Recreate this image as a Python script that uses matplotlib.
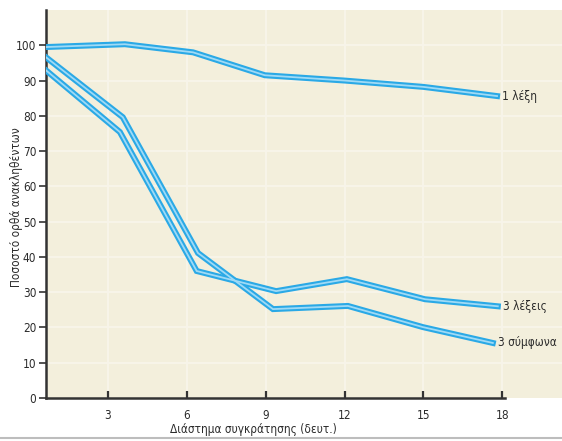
import numpy as np
import matplotlib
matplotlib.use("Agg")
import matplotlib.pyplot as plt
from matplotlib.lines import Line2D

# δεδομένα (ανάγνωση από το γράφημα)
x_1lexi = [0.65, 3.65, 6.24, 8.97, 12.0, 15.0, 17.8]
y_1lexi = [99.5, 100.3, 98.0, 91.5, 90.0, 88.2, 85.6]

x_3lexeis = [0.65, 3.46, 6.38, 9.4, 12.09, 15.06, 17.83]
y_3lexeis = [92.9, 75.4, 36.0, 30.3, 33.7, 28.0, 26.0]

x_3symfona = [0.65, 3.57, 6.43, 9.28, 12.13, 14.98, 17.64]
y_3symfona = [96.6, 79.6, 41.1, 25.2, 26.1, 20.1, 15.6]

series = [
    (x_1lexi, y_1lexi, "1 λέξη", 85.6),
    (x_3lexeis, y_3lexeis, "3 λέξεις", 26.0),
    (x_3symfona, y_3symfona, "3 σύμφωνα", 15.6),
]

xticks = [3, 6, 9, 12, 15, 18]
yticks = [0, 10, 20, 30, 40, 50, 60, 70, 80, 90, 100]

font = dict(family="DejaVu Sans", stretch="condensed")
txt_col = "#2b2b2b"

fig = plt.figure(figsize=(5.62, 4.41), dpi=100)
ax = fig.add_axes([46 / 562, 43 / 441, 516 / 562, 388 / 441])
ax.set_facecolor("#f3efdc")

ax.set_xlim(0.65, 20.27)
ax.set_ylim(0, 110)

# πλέγμα (πολύ αχνό)
for t in xticks:
    ax.axvline(t, color="#f8f5ea", lw=1.3, zorder=0)
for t in yticks[1:]:
    ax.axhline(t, color="#f8f5ea", lw=1.3, zorder=0)

# καμπύλες με διπλή γραμμή
for xs, ys, label, ylab in series:
    ax.plot(xs, ys, color="#2aa9e6", lw=4.3, solid_joinstyle="miter", zorder=3)
    ax.plot(xs, ys, color="#9fdaf6", lw=1.3, solid_joinstyle="miter", zorder=4)
    ax.text(xs[-1] + 0.2, ylab, label, fontsize=8.5, color=txt_col,
            va="center", ha="left", **font)

for s in ["top", "right"]:
    ax.spines[s].set_visible(False)
ax.spines["left"].set_color("#333333")
ax.spines["left"].set_linewidth(1.8)
ax.spines["bottom"].set_color("#333333")
ax.spines["bottom"].set_linewidth(1.8)
ax.spines["bottom"].set_bounds(0.65, 18.1)

ax.set_xticks(xticks)
ax.set_yticks(yticks)
ax.tick_params(axis="x", direction="in", length=5, width=1.6, color="#333333",
               pad=8, labelsize=8.5, labelcolor=txt_col)
ax.tick_params(axis="y", direction="out", length=5, width=1.2, color="#333333",
               pad=2, labelsize=8.5, labelcolor=txt_col)
for lab in ax.get_xticklabels() + ax.get_yticklabels():
    lab.set_fontstretch("condensed")

fig.text(253 / 562, 5 / 441, "Διάστημα συγκράτησης (δευτ.)", fontsize=8.5,
         color=txt_col, ha="center", va="bottom", **font)
fig.text(17 / 562, 0.53, "Ποσοστό ορθά ανακληθέντων", fontsize=8.5,
         color=txt_col, ha="center", va="center", rotation=90, **font)

# γκρι γραμμή στο κάτω μέρος
fig.add_artist(Line2D([0, 1], [3 / 441, 3 / 441], color="#bdbdbd", lw=1.5,
                      transform=fig.transFigure))

fig.savefig("out.png", dpi=100)
